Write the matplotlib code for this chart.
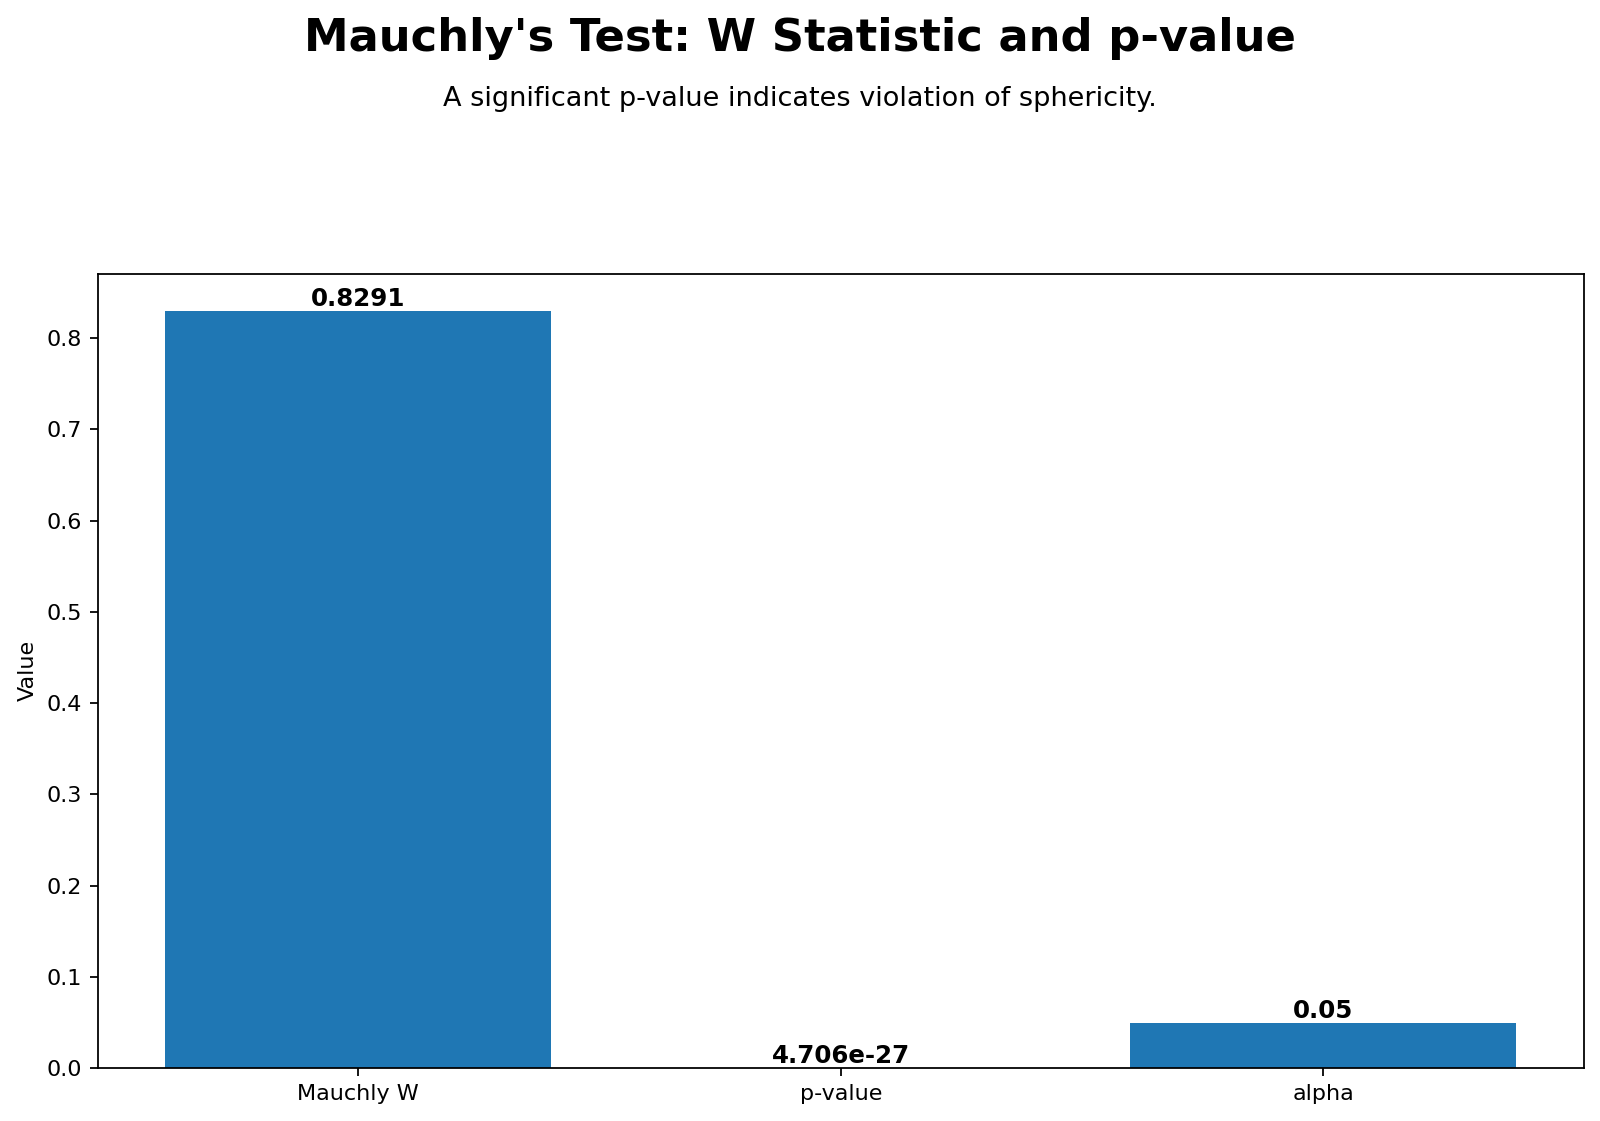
import matplotlib
matplotlib.use("Agg")
import matplotlib.pyplot as plt

categories = ["Mauchly W", "p-value", "alpha"]
values = [0.8291, 4.706e-27, 0.05]
labels = ["0.8291", "4.706e-27", "0.05"]

fig = plt.figure(figsize=(10, 7.00625), dpi=160)
ax = fig.add_axes([0.061, 0.047, 0.929, 0.709])
bars = ax.bar(categories, values, color="#1f77b4", width=0.8)
for b, lab in zip(bars, labels):
    ax.text(b.get_x() + b.get_width() / 2, b.get_height(), lab,
            ha="center", va="bottom", fontsize=11, fontweight="bold")
ax.set_ylabel("Value")
fig.text(0.5, 0.966, "Mauchly's Test: W Statistic and p-value",
         ha="center", va="center", fontsize=20.2, fontweight="bold")
fig.text(0.5, 0.912, "A significant p-value indicates violation of sphericity.",
         ha="center", va="center", fontsize=12.2)
fig.savefig("out.png", dpi=160)
